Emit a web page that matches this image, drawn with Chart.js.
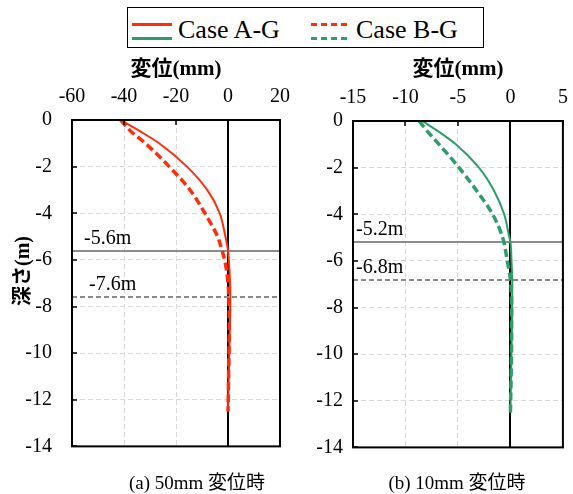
<!DOCTYPE html>
<html>
<head>
<meta charset="utf-8">
<script src="https://cdn.jsdelivr.net/npm/chart.js@4/dist/chart.umd.min.js"></script>
<style>
  body { margin: 0; background: #fff; }
  #page { position: relative; width: 573px; height: 494px; overflow: hidden; font-family: "Liberation Serif", "Noto Sans CJK JP", serif; color: #000; }
  canvas { position: absolute; }
  #legend { position: absolute; left: 127px; top: 7px; width: 357px; height: 41px; box-sizing: border-box; border: 1px solid #000; }
  #legend .key { position: absolute; height: 2.5px; }
  #legend .dash { height: 3px; }
  #legend .txt { position: absolute; top: 7px; font-size: 26px; line-height: 30px; white-space: nowrap; }
  .caption { position: absolute; top: 472px; width: 220px; text-align: center; font-size: 19px; line-height: 22px; white-space: nowrap; }
</style>
</head>
<body>
<div id="page">
  <canvas id="chartA" width="306" height="440" style="left:0;top:50px"></canvas>
  <canvas id="chartB" width="283" height="440" style="left:300px;top:50px"></canvas>
  <div id="legend">
    <div class="key" style="left:4px;width:40px;top:15px;background:#ff2d0a"></div>
    <div class="key" style="left:4px;width:40px;top:29px;background:#2e9d68"></div>
    <div class="txt" style="left:50px">Case A-G</div>
    <div class="key dash" style="left:183px;width:38px;top:14.5px;background:repeating-linear-gradient(to right,#ff2d0a 0 6px,transparent 6px 10px)"></div>
    <div class="key dash" style="left:183px;width:38px;top:28.5px;background:repeating-linear-gradient(to right,#2e9d68 0 6px,transparent 6px 10px)"></div>
    <div class="txt" style="left:228px">Case B-G</div>
  </div>
  <div class="caption" style="left:87px">(a) 50mm 変位時</div>
  <div class="caption" style="left:347px">(b) 10mm 変位時</div>
</div>
<script>
// (a) 50mm 変位時
const depthA50 = [0, -0.5, -1, -2, -3, -4, -5, -5.6, -6.5, -7.6, -9, -10.5, -12.5];
const dispA50 = [-41.3, -33.6, -26.5, -15.8, -8.0, -3.2, -1.0, 0, 0.6, 0.9, 0.7, 0.4, 0];
const depthB50 = [0, -0.5, -1, -2, -3, -4, -5, -5.6, -6, -6.5, -7, -7.6, -9, -10.5, -12.5];
const dispB50 = [-41.3, -37.2, -31.8, -22.6, -14.6, -8.9, -4.0, -2.3, -1.3, -0.5, 0, 0.3, 0.5, 0.3, 0];
const marks50 = [-5.6, -7.6];

// (b) 10mm 変位時
const depthA10 = [0, -0.5, -1, -2, -3, -4, -5, -5.2, -6, -7, -8.5, -10.5, -12.5];
const dispA10 = [-8.4, -6.7, -5.2, -3.0, -1.55, -0.6, -0.1, 0, 0.1, 0.18, 0.15, 0.08, 0];
const depthB10 = [0, -0.5, -1, -2, -3, -4, -5, -6, -6.8, -8, -10, -12.5];
const dispB10 = [-8.7, -7.8, -6.8, -4.9, -3.2, -1.7, -0.74, -0.3, 0, 0.12, 0.1, 0];
const marks10 = [-5.2, -6.8];

const xTicks50 = [-60, -40, -20, 0, 20];
const xTicks10 = [-15, -10, -5, 0, 5];
const depthTicks = [0, -2, -4, -6, -8, -10, -12, -14];

const RED = "#ff2d0a";
const GREEN = "#2e9d68";
const FAMILY = '"Liberation Serif", "Noto Sans CJK JP", serif';

Chart.defaults.color = "#000";

function toPoints(xs, ys) {
    return xs.map((v, i) => ({ x: v, y: ys[i] }));
}

function strokeLine(ctx, x1, y1, x2, y2) {
    ctx.beginPath();
    ctx.moveTo(x1, y1);
    ctx.lineTo(x2, y2);
    ctx.stroke();
}

// zero line, depth markers, frame, inward ticks
const framePlugin = {
    id: "frame",
    beforeDatasetsDraw(chart, args, opts) {
        const { ctx, chartArea: a, scales: { x, y } } = chart;
        ctx.save();
        ctx.strokeStyle = "#000";
        ctx.lineWidth = 2;
        const x0 = Math.round(x.getPixelForValue(0));
        strokeLine(ctx, x0, a.top, x0, a.bottom);

        opts.marks.forEach((d, i) => {
            const py = Math.round(y.getPixelForValue(d));
            ctx.strokeStyle = "#8c8c8c";
            ctx.lineWidth = 2;
            ctx.setLineDash(i === 0 ? [] : [5, 3]);
            strokeLine(ctx, a.left, py, a.right, py);
            ctx.setLineDash([]);
            ctx.fillStyle = "#000";
            ctx.font = "20px " + FAMILY;
            ctx.textAlign = "left";
            ctx.textBaseline = "alphabetic";
            ctx.fillText(d + "m", a.left + opts.labelDx[i], py - 7);
        });
        ctx.restore();
    },
    afterDraw(chart, args, opts) {
        const { ctx, chartArea: a, scales: { x, y } } = chart;
        ctx.save();
        ctx.strokeStyle = "#000";
        ctx.lineWidth = 1.5;
        x.ticks.forEach(t => {
            const px = Math.round(x.getPixelForValue(t.value));
            strokeLine(ctx, px, a.top, px, a.top + 5);
        });
        y.ticks.forEach(t => {
            const py = Math.round(y.getPixelForValue(t.value));
            strokeLine(ctx, a.left, py, a.left + 5, py);
        });
        ctx.lineWidth = 2;
        ctx.strokeRect(a.left, a.top, a.right - a.left, a.bottom - a.top);

        if (opts.yTitle) {
            ctx.translate(opts.yTitle.x, opts.yTitle.y);
            ctx.rotate(-Math.PI / 2);
            ctx.fillStyle = "#000";
            ctx.font = "bold 20px " + FAMILY;
            ctx.textAlign = "center";
            ctx.textBaseline = "middle";
            ctx.fillText(opts.yTitle.text, 0, 0);
        }
        ctx.restore();
    }
};

function makeChart(id, cfg) {
    return new Chart(document.getElementById(id), {
        type: "line",
        data: {
            datasets: [{
                label: "Case A-G",
                data: toPoints(cfg.dispA, cfg.depthA),
                borderColor: cfg.color,
                borderWidth: 2
            }, {
                label: "Case B-G",
                data: toPoints(cfg.dispB, cfg.depthB),
                borderColor: cfg.color,
                borderWidth: 3.5,
                borderDash: [8, 4]
            }]
        },
        options: {
            responsive: false,
            animation: false,
            indexAxis: "y",
            layout: { padding: { left: 0, top: 0, right: 26, bottom: 20 } },
            elements: {
                point: { radius: 0 },
                line: { cubicInterpolationMode: "monotone", fill: false }
            },
            plugins: {
                legend: { display: false },
                tooltip: { enabled: false },
                frame: { marks: cfg.marks, labelDx: cfg.labelDx, yTitle: cfg.yTitle }
            },
            scales: {
                x: {
                    type: "linear",
                    position: "top",
                    min: cfg.xTicks[0],
                    max: cfg.xTicks[cfg.xTicks.length - 1],
                    afterBuildTicks: s => { s.ticks = cfg.xTicks.map(v => ({ value: v })); },
                    afterFit: s => { s.height = cfg.xAxisHeight; },
                    ticks: { font: { family: FAMILY, size: 20 }, padding: 11, maxRotation: 0 },
                    grid: {
                        drawTicks: false,
                        lineWidth: 1,
                        color: c => (c.tick && c.tick.value === 0) ? "rgba(0,0,0,0)" : "#d9d9d9"
                    },
                    border: { display: false, dash: [5, 3] },
                    title: {
                        display: true,
                        text: "変位(mm)",
                        font: { family: FAMILY, size: 21, weight: "bold" },
                        padding: { top: 7, bottom: 0 }
                    }
                },
                y: {
                    type: "linear",
                    min: depthTicks[depthTicks.length - 1],
                    max: depthTicks[0],
                    afterBuildTicks: s => { s.ticks = depthTicks.map(v => ({ value: v })); },
                    afterFit: s => { s.width = cfg.yAxisWidth; },
                    ticks: { font: { family: FAMILY, size: 20 }, padding: cfg.yTickPad },
                    grid: { drawTicks: false, lineWidth: 1, color: "#d9d9d9" },
                    border: { display: false, dash: [5, 3] }
                }
            }
        },
        plugins: [framePlugin]
    });
}

// nudge layout padding until the plot area sits where the figure has it
function fitArea(chart, right, bottom) {
    const pad = chart.config.options.layout.padding;
    for (let i = 0; i < 10; i++) {
        const a = chart.chartArea;
        const dr = a.right - right;
        const db = a.bottom - bottom;
        if (Math.abs(dr) < 0.5 && Math.abs(db) < 0.5) break;
        pad.right = Math.max(0, pad.right + dr / 2);
        pad.bottom = Math.max(0, pad.bottom + db / 2);
        chart.update();
    }
}

document.addEventListener("DOMContentLoaded", function () {
    const chartA = makeChart("chartA", {
        dispA: dispA50, depthA: depthA50, dispB: dispB50, depthB: depthB50,
        color: RED, marks: marks50, labelDx: [12, 17], xTicks: xTicks50,
        xAxisHeight: 70, yAxisWidth: 72, yTickPad: 20,
        yTitle: { text: "深さ(m)", x: 24, y: 221 }
    });
    fitArea(chartA, 280, 396);

    const chartB = makeChart("chartB", {
        dispA: dispA10, depthA: depthA10, dispB: dispB10, depthB: depthB10,
        color: GREEN, marks: marks10, labelDx: [3, 3], xTicks: xTicks10,
        xAxisHeight: 71, yAxisWidth: 53, yTickPad: 10,
        yTitle: null
    });
    fitArea(chartB, 263, 397);
});
</script>
</body>
</html>
